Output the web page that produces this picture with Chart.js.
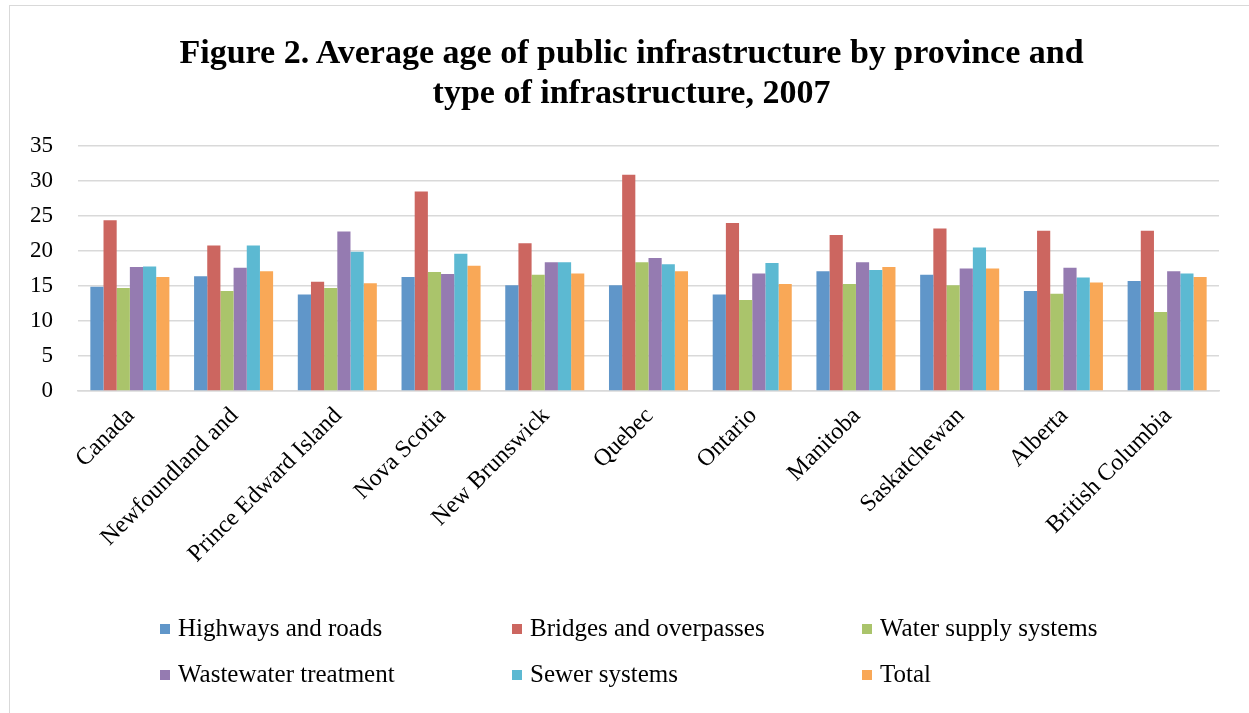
<!DOCTYPE html>
<html>
<head>
<meta charset="utf-8">
<script src="https://cdn.jsdelivr.net/npm/chart.js@4"></script>
<style>
  html, body { margin: 0; padding: 0; background: #fff; }
  #wrap { position: relative; width: 1249px; height: 713px; overflow: hidden; }
  #frame { position: absolute; left: 9px; top: 5px; width: 1260px; height: 720px; border: 1px solid #d9d9d9; box-sizing: border-box; }
  canvas { position: absolute; left: 0; top: 0; }
  #title { position: absolute; left: 7px; top: 32px; width: 1249px; margin: 0; text-align: center;
           font-family: "Liberation Serif", serif; font-weight: bold; font-size: 34px; line-height: 40px; color: #000; }
  #legend { position: absolute; left: 0; top: 0; width: 1249px; height: 713px; pointer-events: none;
            font-family: "Liberation Serif", serif; font-size: 25px; color: #000; }
  .item { position: absolute; white-space: nowrap; }
  .sw { display: inline-block; width: 10px; height: 10px; margin-right: 8px; vertical-align: 2px; }
</style>
</head>
<body>
<div id="wrap">
  <div id="frame"></div>
  <canvas id="chart" width="1249" height="713"></canvas>
  <div id="title">Figure 2. Average age of public infrastructure by province and<br>type of infrastructure, 2007</div>
  <div id="legend"></div>
</div>
<script>
const provinces = ["Canada", "Newfoundland and", "Prince Edward Island", "Nova Scotia", "New Brunswick",
  "Quebec", "Ontario", "Manitoba", "Saskatchewan", "Alberta", "British Columbia"];

const highways   = [14.9, 16.4, 13.8, 16.3, 15.1, 15.1, 13.8, 17.1, 16.6, 14.3, 15.7];
const bridges    = [24.4, 20.8, 15.6, 28.5, 21.1, 30.9, 24.0, 22.3, 23.2, 22.9, 22.9];
const water      = [14.7, 14.3, 14.7, 17.0, 16.6, 18.4, 13.0, 15.3, 15.1, 13.9, 11.3];
const wastewater = [17.7, 17.6, 22.8, 16.7, 18.4, 19.0, 16.8, 18.4, 17.5, 17.6, 17.1];
const sewer      = [17.8, 20.8, 19.9, 19.6, 18.4, 18.1, 18.3, 17.3, 20.5, 16.2, 16.8];
const total      = [16.3, 17.1, 15.4, 17.9, 16.8, 17.1, 15.3, 17.7, 17.5, 15.5, 16.3];

const yTicks = [0, 5, 10, 15, 20, 25, 30, 35];

const series = [
  { label: "Highways and roads", data: highways, color: "#6096c9" },
  { label: "Bridges and overpasses", data: bridges, color: "#cc6660" },
  { label: "Water supply systems", data: water, color: "#aac46b" },
  { label: "Wastewater treatment", data: wastewater, color: "#957bb1" },
  { label: "Sewer systems", data: sewer, color: "#5cb9d2" },
  { label: "Total", data: total, color: "#f9a857" },
];

const serif = "'Liberation Serif', serif";

new Chart(document.getElementById("chart"), {
  type: "bar",
  data: {
    labels: provinces,
    datasets: series.map((s) => ({
      label: s.label,
      data: s.data,
      backgroundColor: s.color,
      borderWidth: 0,
      categoryPercentage: 0.762,
      barPercentage: 1.0,
    })),
  },
  options: {
    responsive: false,
    animation: false,
    layout: { padding: { left: 0, right: 30, top: 146, bottom: 0 } },
    plugins: {
      legend: { display: false },
      tooltip: { enabled: false },
      title: { display: false },
    },
    scales: {
      x: {
        grid: { display: false, drawTicks: false },
        border: { color: "#d9d9d9", width: 1.5 },
        ticks: {
          color: "#000",
          font: { family: serif, size: 24 },
          maxRotation: 45,
          minRotation: 45,
          padding: 11,
          labelOffset: 1,
          autoSkip: false,
        },
        afterFit: (scale) => { scale.height = 322; },
      },
      y: {
        min: 0,
        max: 35,
        afterBuildTicks: (scale) => { scale.ticks = yTicks.map((v) => ({ value: v })); },
        grid: { color: "#d9d9d9", lineWidth: 1.5, drawTicks: false },
        border: { display: false },
        ticks: { color: "#000", font: { family: serif, size: 23 }, padding: 25 },
        afterFit: (scale) => { scale.width = 78; },
      },
    },
  },
});

// legend laid out in three columns like the original
const legendEl = document.getElementById("legend");
const cols = [160, 512, 862];
const rows = [614, 660];
series.forEach((s, i) => {
  const div = document.createElement("div");
  div.className = "item";
  div.style.left = cols[i % 3] + "px";
  div.style.top = rows[Math.floor(i / 3)] + "px";
  div.innerHTML = `<span class="sw" style="background:${s.color}"></span>${s.label}`;
  legendEl.appendChild(div);
});
</script>
</body>
</html>
